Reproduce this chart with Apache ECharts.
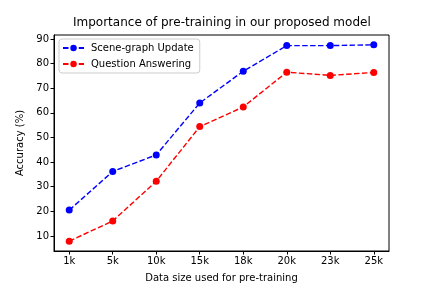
<!DOCTYPE html>
<html>
<head>
<meta charset="utf-8">
<script src="https://cdn.jsdelivr.net/npm/echarts@6/dist/echarts.min.js"></script>
<style>html,body{margin:0;padding:0;background:#fff}#c{width:432px;height:288px}</style>
</head>
<body>
<div id="c"></div>
<script>
var categories = ['1k', '5k', '10k', '15k', '18k', '20k', '23k', '25k'];
var sceneGraph = [20.5, 36.2, 42.9, 64.0, 76.9, 87.3, 87.3, 87.6];
var questionAnswering = [7.9, 16.1, 32.2, 54.4, 62.4, 76.5, 75.2, 76.4];
var yTicks = [10, 20, 30, 40, 50, 60, 70, 80, 90];

var font = 'DejaVu Sans';
function pairs(arr) { return arr.map(function (v, i) { return [i, v]; }); }
var xTicks = categories.map(function (c, i) { return i; });

var chart = echarts.init(document.getElementById('c'), null, { renderer: 'canvas' });
chart.setOption({
  animation: false,
  backgroundColor: '#fff',
  title: {
    text: 'Importance of pre-training in our proposed model',
    left: 73, top: 17, padding: 0,
    textStyle: { fontFamily: font, fontSize: 12, fontWeight: 'normal', color: '#000' }
  },
  legend: {
    left: 59, top: 39,
    orient: 'vertical',
    itemWidth: 21, itemHeight: 8, itemGap: 6,
    padding: [4, 6, 4, 3],
    borderColor: '#cccccc', borderWidth: 1, borderRadius: 3,
    backgroundColor: '#fff',
    textStyle: { fontFamily: font, fontSize: 10, color: '#000', padding: [0, 0, 0, 2] },
    data: ['Scene-graph Update', 'Question Answering']
  },
  grid: {
    left: 54, right: 43, top: 35, bottom: 36,
    show: true, borderColor: '#000', borderWidth: 1, backgroundColor: 'transparent'
  },
  xAxis: {
    type: 'value', min: -0.35, max: 7.35,
    name: 'Data size used for pre-training', nameLocation: 'middle', nameGap: 22,
    nameTextStyle: { fontFamily: font, fontSize: 10, color: '#000' },
    axisLine: { show: true, onZero: false, lineStyle: { color: '#000', width: 1 } },
    axisTick: { show: true, length: 3.5, customValues: xTicks, lineStyle: { color: '#000' } },
    axisLabel: {
      customValues: xTicks, margin: 5,
      fontFamily: font, fontSize: 10, color: '#000',
      formatter: function (v) { return categories[Math.round(v)]; }
    },
    splitLine: { show: false }
  },
  yAxis: {
    type: 'value', min: 3.9, max: 91.6,
    name: 'Accuracy (%)', nameLocation: 'middle', nameGap: 23, nameRotate: 90,
    nameTextStyle: { fontFamily: font, fontSize: 10, color: '#000' },
    axisLine: { show: true, onZero: false, lineStyle: { color: '#000', width: 1 } },
    axisTick: { show: true, length: 3.5, customValues: yTicks, lineStyle: { color: '#000' } },
    axisLabel: { customValues: yTicks, margin: 5, fontFamily: font, fontSize: 10, color: '#000' },
    splitLine: { show: false }
  },
  series: [
    {
      name: 'Scene-graph Update', type: 'line', data: pairs(sceneGraph),
      symbol: 'circle', symbolSize: 7,
      itemStyle: { color: '#0000ff' },
      lineStyle: { color: '#0000ff', width: 1.4, type: [5.5, 2.4] }
    },
    {
      name: 'Question Answering', type: 'line', data: pairs(questionAnswering),
      symbol: 'circle', symbolSize: 7,
      itemStyle: { color: '#ff0000' },
      lineStyle: { color: '#ff0000', width: 1.4, type: [5.5, 2.4] }
    }
  ]
});
</script>
</body>
</html>
